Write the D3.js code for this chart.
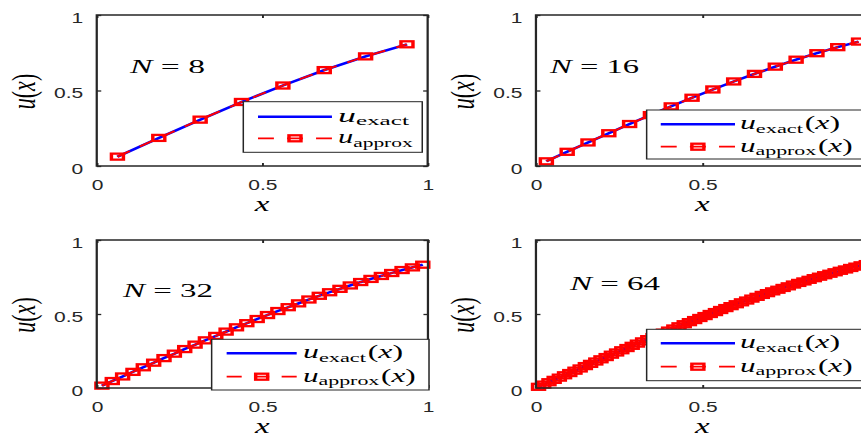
<!DOCTYPE html>
<html>
<head>
<meta charset="utf-8">
<script src="https://cdn.jsdelivr.net/npm/d3@7"></script>
<style>
  html, body { margin: 0; padding: 0; background: #fff; overflow: hidden; }
  svg { display: block; }
</style>
</head>
<body>
<svg id="fig"></svg>
<script>
// Grid points (cell midpoints) and solution values for each resolution
const x8 = [0.0625, 0.1875, 0.3125, 0.4375, 0.5625, 0.6875, 0.8125, 0.9375];
const u8 = [0.062, 0.186, 0.307, 0.424, 0.533, 0.635, 0.726, 0.806];

const x16 = [0.0313, 0.0938, 0.1563, 0.2188, 0.2813, 0.3438, 0.4063, 0.4688,
             0.5313, 0.5938, 0.6563, 0.7188, 0.7813, 0.8438, 0.9063, 0.9688];
const u16 = [0.031, 0.094, 0.156, 0.217, 0.278, 0.337, 0.395, 0.452,
             0.507, 0.560, 0.610, 0.658, 0.704, 0.747, 0.787, 0.824];

const x32 = [0.0156, 0.0469, 0.0781, 0.1094, 0.1406, 0.1719, 0.2031, 0.2344,
             0.2656, 0.2969, 0.3281, 0.3594, 0.3906, 0.4219, 0.4531, 0.4844,
             0.5156, 0.5469, 0.5781, 0.6094, 0.6406, 0.6719, 0.7031, 0.7344,
             0.7656, 0.7969, 0.8281, 0.8594, 0.8906, 0.9219, 0.9531, 0.9844];
const u32 = [0.016, 0.047, 0.078, 0.109, 0.140, 0.171, 0.202, 0.232,
             0.263, 0.293, 0.322, 0.352, 0.381, 0.410, 0.438, 0.466,
             0.493, 0.520, 0.546, 0.572, 0.598, 0.623, 0.647, 0.670,
             0.693, 0.716, 0.737, 0.757, 0.777, 0.797, 0.815, 0.833];

const x64 = [0.0078, 0.0234, 0.0391, 0.0547, 0.0703, 0.0859, 0.1016, 0.1172,
             0.1328, 0.1484, 0.1641, 0.1797, 0.1953, 0.2109, 0.2266, 0.2422,
             0.2578, 0.2734, 0.2891, 0.3047, 0.3203, 0.3359, 0.3516, 0.3672,
             0.3828, 0.3984, 0.4141, 0.4297, 0.4453, 0.4609, 0.4766, 0.4922,
             0.5078, 0.5234, 0.5391, 0.5547, 0.5703, 0.5859, 0.6016, 0.6172,
             0.6328, 0.6484, 0.6641, 0.6797, 0.6953, 0.7109, 0.7266, 0.7422,
             0.7578, 0.7734, 0.7891, 0.8047, 0.8203, 0.8359, 0.8516, 0.8672,
             0.8828, 0.8984, 0.9141, 0.9297, 0.9453, 0.9609, 0.9766, 0.9922];
const u64 = [0.008, 0.023, 0.039, 0.055, 0.070, 0.086, 0.101, 0.117,
             0.132, 0.148, 0.163, 0.179, 0.194, 0.209, 0.225, 0.240,
             0.255, 0.270, 0.285, 0.300, 0.315, 0.330, 0.344, 0.359,
             0.374, 0.388, 0.402, 0.417, 0.431, 0.445, 0.459, 0.473,
             0.486, 0.500, 0.513, 0.527, 0.540, 0.553, 0.566, 0.579,
             0.591, 0.604, 0.616, 0.629, 0.641, 0.653, 0.664, 0.676,
             0.687, 0.699, 0.710, 0.720, 0.731, 0.742, 0.752, 0.762,
             0.772, 0.782, 0.792, 0.801, 0.811, 0.820, 0.829, 0.837];

const tickValues = [0, 0.5, 1];
const tickLabels = ["0", "0.5", "1"];
const gridSizes = [8, 16, 32, 64];

// The figure is drawn in a narrower coordinate space and stretched horizontally.
const SX = 1.5;
const W = 861, H = 434;
const VW = W / SX;

const BLUE = "#0000ff", RED = "#ff0000", INK = "#262626";
const SERIF = "'Liberation Serif', 'Times New Roman', serif";
const SANS = "'Liberation Sans', Arial, sans-serif";

const panels = [
  { n: gridSizes[0], xs: x8, us: u8,
    box: { l: 64.5, r: 285.1, t: 15, b: 166 }, tag: [86.7, 73, 50],
    leg: { x0: 162.2, x1: 281.5, y0: 101.7, y1: 152.3, rows: [116.7, 138.3],
           line: [172, 221.3], tx: 225.3, arg: false, tw: [47.3, 49.8] } },
  { n: gridSizes[1], xs: x16, us: u16,
    box: { l: 357.3, r: 579.3, t: 15, b: 166 }, tag: [366.7, 73, 59.3],
    leg: { x0: 431.1, x1: 576, y0: 110, y1: 159, rows: [124.3, 146.7],
           line: [440.5, 490], tx: 493.3, arg: true, tw: [66.7, 75.1] } },
  { n: gridSizes[2], xs: x32, us: u32,
    box: { l: 64.5, r: 285.3, t: 240, b: 388 }, tag: [82, 297, 60],
    leg: { x0: 141.1, x1: 286, y0: 339.3, y1: 390, rows: [353.3, 376.7],
           line: [151.1, 197.8], tx: 202, arg: true, tw: [66.7, 75.1] } },
  { n: gridSizes[3], xs: x64, us: u64,
    box: { l: 357.3, r: 579.3, t: 240, b: 388 }, tag: [380, 290, 60],
    leg: { x0: 431.1, x1: 576, y0: 329.3, y1: 380.7, rows: [343.3, 366.7],
           line: [440.5, 490], tx: 493.3, arg: true, tw: [66.7, 75.1] } }
];

const svg = d3.select("#fig")
  .attr("width", W).attr("height", H)
  .attr("viewBox", `0 0 ${VW} ${H}`)
  .attr("preserveAspectRatio", "none");

svg.append("rect").attr("width", VW).attr("height", H).attr("fill", "#fff");

const MW = 8, MH = 6, MS = 2.3;   // square marker size and stroke
const DASH = "10,8";

function marker(g, cx, cy) {
  g.append("rect")
    .attr("x", cx - MW / 2).attr("y", cy - MH / 2)
    .attr("width", MW).attr("height", MH)
    .attr("fill", "none").attr("stroke", RED).attr("stroke-width", MS);
}

// u with a roman subscript, optionally followed by (x)
function uLabel(g, x, y, sub, arg, fs, width) {
  const t = g.append("text").attr("x", x).attr("y", y)
    .attr("font-family", SERIF).attr("font-size", fs).attr("fill", "#000");
  t.append("tspan").attr("font-style", "italic").text("u");
  t.append("tspan").attr("font-size", fs * 0.7).attr("dy", fs * 0.2).text(sub);
  if (arg) {
    t.append("tspan").attr("dy", -fs * 0.2).attr("dx", 1).text("(");
    t.append("tspan").attr("font-style", "italic").text("x");
    t.append("tspan").text(")");
  }
  if (width) t.attr("textLength", width).attr("lengthAdjust", "spacingAndGlyphs");
  return t;
}

panels.forEach(p => {
  const g = svg.append("g");
  const x = d3.scaleLinear().domain([0, 1]).range([p.box.l, p.box.r]);
  const y = d3.scaleLinear().domain([0, 1]).range([p.box.b, p.box.t]);
  const pts = p.xs.map((v, i) => [v, p.us[i]]);

  // axes background and frame
  g.append("rect")
    .attr("x", p.box.l).attr("y", p.box.t)
    .attr("width", p.box.r - p.box.l).attr("height", p.box.b - p.box.t)
    .attr("fill", "#fff");

  const styleAxis = (sel, fs) => {
    sel.select(".domain").remove();
    sel.selectAll(".tick line").attr("stroke", INK).attr("stroke-width", 1.3);
    sel.selectAll(".tick text").attr("fill", INK)
      .attr("font-family", SANS).attr("font-size", fs);
  };

  const xb = g.append("g").attr("transform", `translate(0,${p.box.b})`)
    .call(d3.axisBottom(x).tickValues(tickValues)
      .tickFormat((d, i) => tickLabels[i]).tickSizeInner(-3).tickSizeOuter(0).tickPadding(14));
  styleAxis(xb, 14);
  const yl = g.append("g").attr("transform", `translate(${p.box.l},0)`)
    .call(d3.axisLeft(y).tickValues(tickValues)
      .tickFormat((d, i) => tickLabels[i]).tickSizeInner(-3).tickSizeOuter(0).tickPadding(9));
  styleAxis(yl, 14);
  yl.selectAll(".tick text").attr("dy", "0.5em");
  const xt = g.append("g").attr("transform", `translate(0,${p.box.t})`)
    .call(d3.axisTop(x).tickValues(tickValues).tickFormat("").tickSizeInner(-3).tickSizeOuter(0));
  styleAxis(xt, 14);
  const yr = g.append("g").attr("transform", `translate(${p.box.r},0)`)
    .call(d3.axisRight(y).tickValues(tickValues).tickFormat("").tickSizeInner(-3).tickSizeOuter(0));
  styleAxis(yr, 14);

  // exact solution and approximation
  const line = d3.line().x(d => x(d[0])).y(d => y(d[1]));
  g.append("path").datum(pts).attr("d", line)
    .attr("fill", "none").attr("stroke", BLUE).attr("stroke-width", 2.4);
  g.append("path").datum(pts).attr("d", line)
    .attr("fill", "none").attr("stroke", RED).attr("stroke-width", 1.8)
    .attr("stroke-dasharray", DASH);
  const mg = g.append("g");
  pts.forEach(d => marker(mg, x(d[0]), y(d[1])));

  g.append("rect")
    .attr("x", p.box.l).attr("y", p.box.t)
    .attr("width", p.box.r - p.box.l).attr("height", p.box.b - p.box.t)
    .attr("fill", "none").attr("stroke", INK).attr("stroke-width", 1.5);

  // axis labels
  g.append("text")
    .attr("x", (p.box.l + p.box.r) / 2).attr("y", p.box.b + 45)
    .attr("text-anchor", "middle").attr("font-family", SERIF)
    .attr("font-style", "italic").attr("font-size", 22).attr("fill", "#000")
    .text("x");
  const yt = g.append("text")
    .attr("transform", `translate(${p.box.l - 41},${(p.box.t + p.box.b) / 2 + 1}) rotate(-90)`)
    .attr("text-anchor", "middle").attr("font-family", SERIF)
    .attr("font-size", 22).attr("fill", "#000");
  yt.append("tspan").attr("font-style", "italic").text("u");
  yt.append("tspan").text("(");
  yt.append("tspan").attr("font-style", "italic").text("x");
  yt.append("tspan").text(")");

  // grid size annotation
  const tg = g.append("text").attr("x", p.tag[0]).attr("y", p.tag[1])
    .attr("font-family", SERIF).attr("font-size", 19).attr("fill", "#000")
    .attr("textLength", p.tag[2]).attr("lengthAdjust", "spacingAndGlyphs");
  tg.append("tspan").attr("font-style", "italic").text("N");
  tg.append("tspan").text(` = ${p.n}`);

  // legend
  const L = p.leg;
  const lg = g.append("g");
  lg.append("rect").attr("x", L.x0).attr("y", L.y0)
    .attr("width", L.x1 - L.x0).attr("height", L.y1 - L.y0)
    .attr("fill", "#fff").attr("stroke", INK).attr("stroke-width", 1);
  lg.append("line").attr("x1", L.line[0]).attr("x2", L.line[1])
    .attr("y1", L.rows[0]).attr("y2", L.rows[0])
    .attr("stroke", BLUE).attr("stroke-width", 2.4);
  const len = L.line[1] - L.line[0];
  const dash = len * 0.215, gap = (len - 3 * dash) / 2;
  lg.append("line").attr("x1", L.line[0]).attr("x2", L.line[1])
    .attr("y1", L.rows[1]).attr("y2", L.rows[1])
    .attr("stroke", RED).attr("stroke-width", 1.8)
    .attr("stroke-dasharray", `${dash},${gap}`);
  marker(lg, (L.line[0] + L.line[1]) / 2, L.rows[1]);
  uLabel(lg, L.tx, L.rows[0] + 5, "exact", L.arg, 18, L.tw[0]);
  uLabel(lg, L.tx, L.rows[1] + 5, "approx", L.arg, 18, L.tw[1]);
});
</script>
</body>
</html>
